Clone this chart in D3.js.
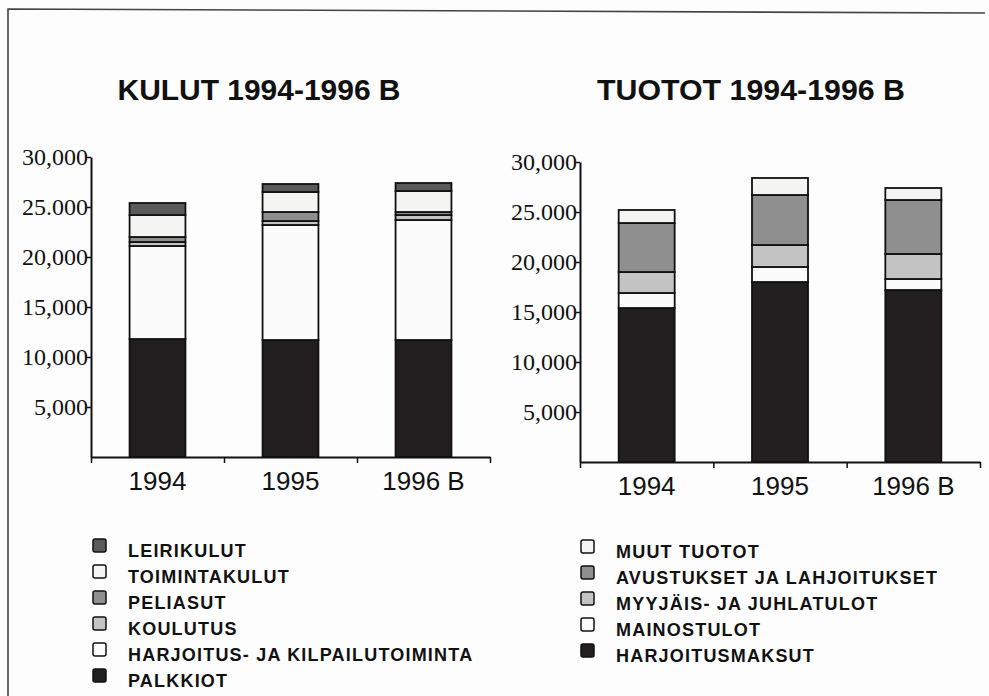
<!DOCTYPE html>
<html>
<head>
<meta charset="utf-8">
<script src="https://cdn.jsdelivr.net/npm/d3@7"></script>
<style>
  body { margin: 0; background: #fdfdfd; }
  svg { display: block; }
</style>
</head>
<body>
<svg id="chart" width="989" height="696"></svg>
<script>
'use strict';

// vuodet ja akselin tekstit
var years = ['1994', '1995', '1996 B'];
var yTicks = [5000, 10000, 15000, 20000, 25000, 30000];
var yTickLabels = ['5,000', '10,000', '15,000', '20,000', '25.000', '30,000'];

// KULUT, pinottuna alhaalta ylös
var kulutSeries = ['PALKKIOT', 'HARJOITUS- JA KILPAILUTOIMINTA', 'KOULUTUS', 'PELIASUT', 'TOIMINTAKULUT', 'LEIRIKULUT'];
var palkkiot = [11800, 11700, 11700];
var harjoitusToiminta = [9300, 11500, 12000];
var koulutus = [400, 400, 500];
var peliasut = [500, 900, 300];
var toimintakulut = [2200, 2000, 2100];
var leirikulut = [1200, 800, 800];

// TUOTOT, pinottuna alhaalta ylös
var tuototSeries = ['HARJOITUSMAKSUT', 'MAINOSTULOT', 'MYYJÄIS- JA JUHLATULOT', 'AVUSTUKSET JA LAHJOITUKSET', 'MUUT TUOTOT'];
var harjoitusmaksut = [15400, 18000, 17200];
var mainostulot = [1500, 1500, 1100];
var myyjaisTulot = [2100, 2200, 2500];
var avustukset = [4900, 5000, 5400];
var muutTuotot = [1300, 1700, 1200];

var kulutColors = ['#231f20', '#fbfbfb', '#c4c4c4', '#8f8f8f', '#f4f4f2', '#5a5a5a'];
var tuototColors = ['#231f20', '#fbfbfb', '#c4c4c4', '#8f8f8f', '#f4f4f2'];

var svg = d3.select('#chart');

// kehys
svg.append('path')
  .attr('d', 'M985,13 L8,9 L8,696')
  .attr('fill', 'none')
  .attr('stroke', '#444')
  .attr('stroke-width', 1.6);

function buildRows(names, values) {
  return years.map(function(y, i) {
    var row = { year: y };
    names.forEach(function(n, j) { row[n] = values[j][i]; });
    return row;
  });
}

function drawChart(opts) {
  var g = svg.append('g');
  var x = d3.scaleBand().domain(years).range([opts.x0, opts.x1])
    .paddingInner(0.58).paddingOuter(0.29);
  var y = d3.scaleLinear().domain([0, 30000]).range([opts.y0, opts.y0 - 300]);
  var stack = d3.stack().keys(opts.names)(buildRows(opts.names, opts.values));

  g.append('text')
    .attr('x', opts.titleX)
    .attr('y', 100)
    .attr('text-anchor', 'middle')
    .attr('font-family', '"Liberation Sans Narrow", "Liberation Sans", Arial, sans-serif')
    .attr('font-weight', 'bold')
    .attr('font-size', 29)
    .attr('fill', '#111')
    .attr('textLength', opts.titleW)
    .attr('lengthAdjust', 'spacingAndGlyphs')
    .text(opts.title);

  g.selectAll('g.layer')
    .data(stack)
    .enter().append('g')
    .attr('class', 'layer')
    .attr('fill', function(d, i) { return opts.colors[i]; })
    .selectAll('rect')
    .data(function(d) { return d; })
    .enter().append('rect')
    .attr('x', function(d) { return x(d.data.year); })
    .attr('y', function(d) { return y(d[1]); })
    .attr('width', x.bandwidth())
    .attr('height', function(d) { return y(d[0]) - y(d[1]); })
    .attr('stroke', '#111')
    .attr('stroke-width', 1.8);

  var yAxis = g.append('g')
    .attr('transform', 'translate(' + opts.x0 + ',0)')
    .call(d3.axisLeft(y).tickValues(yTicks).tickSize(4).tickSizeOuter(0)
      .tickFormat(function(d, i) { return yTickLabels[i]; }));
  yAxis.select('.domain').attr('stroke', '#111').attr('stroke-width', 2);
  yAxis.selectAll('.tick line').attr('stroke', '#111').attr('stroke-width', 1.5);
  yAxis.selectAll('.tick text')
    .attr('font-family', '"Liberation Serif", "Times New Roman", serif')
    .attr('font-size', 24)
    .attr('fill', '#111')
    .attr('x', -3);

  var edges = d3.scaleLinear().domain([0, years.length]).range([opts.x0, opts.x1]);
  var xAxis = g.append('g')
    .attr('transform', 'translate(0,' + opts.y0 + ')')
    .call(d3.axisBottom(edges).tickValues(d3.range(years.length + 1)).tickSize(6).tickSizeOuter(0)
      .tickFormat(''));
  xAxis.select('.domain').attr('stroke', '#111').attr('stroke-width', 2);
  xAxis.selectAll('.tick line').attr('stroke', '#111').attr('stroke-width', 1.5);

  var xLabels = g.append('g')
    .attr('transform', 'translate(0,' + opts.y0 + ')')
    .call(d3.axisBottom(x).tickSize(0));
  xLabels.select('.domain').remove();
  xLabels.selectAll('.tick text')
    .attr('font-family', '"Liberation Sans", Arial, sans-serif')
    .attr('font-size', 26)
    .attr('fill', '#111')
    .attr('dy', '1.15em');

  // selite, ylin sarja ensin
  var legendNames = opts.names.slice().reverse();
  var legendColors = opts.colors.slice().reverse();
  var lg = g.selectAll('g.legend')
    .data(legendNames)
    .enter().append('g')
    .attr('class', 'legend')
    .attr('transform', function(d, i) {
      return 'translate(' + opts.legX + ',' + (opts.legY + i * opts.legStep) + ')';
    });
  lg.append('rect')
    .attr('x', 0).attr('y', -7)
    .attr('width', 13).attr('height', 13)
    .attr('rx', 2)
    .attr('fill', function(d, i) { return legendColors[i]; })
    .attr('stroke', '#111')
    .attr('stroke-width', 1.5);
  lg.append('text')
    .attr('x', 35)
    .attr('y', 6 + opts.legTextDy)
    .attr('font-family', '"Liberation Sans", Arial, sans-serif')
    .attr('font-weight', 'bold')
    .attr('font-size', 18)
    .attr('letter-spacing', 1.2)
    .attr('fill', '#111')
    .text(function(d) { return d; });
}

drawChart({
  title: 'KULUT 1994-1996 B', titleX: 259, titleW: 283,
  names: kulutSeries,
  values: [palkkiot, harjoitusToiminta, koulutus, peliasut, toimintakulut, leirikulut],
  colors: kulutColors,
  x0: 91, x1: 490, y0: 457,
  legX: 93, legY: 546, legStep: 26, legTextDy: 5
});

drawChart({
  title: 'TUOTOT 1994-1996 B', titleX: 751, titleW: 308,
  names: tuototSeries,
  values: [harjoitusmaksut, mainostulot, myyjaisTulot, avustukset, muutTuotot],
  colors: tuototColors,
  x0: 580, x1: 980, y0: 462,
  legX: 581, legY: 547, legStep: 26, legTextDy: 5
});
</script>
</body>
</html>
